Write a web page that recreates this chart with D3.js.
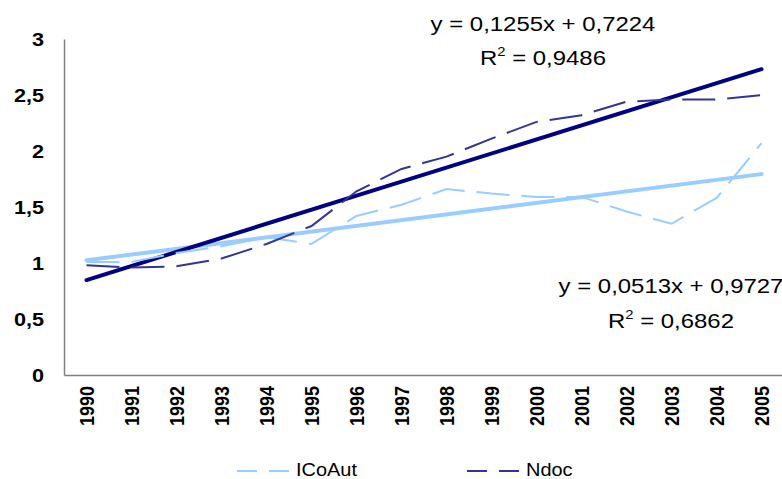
<!DOCTYPE html>
<html>
<head>
<meta charset="utf-8">
<script src="https://cdn.jsdelivr.net/npm/d3@7"></script>
<style>
  html, body { margin: 0; padding: 0; background: #fff; }
  svg { display: block; font-family: "Liberation Sans", Arial, sans-serif; }
</style>
</head>
<body>
<svg id="chart" width="782" height="479"></svg>
<script>
// Years on the category axis
const years = ["1990","1991","1992","1993","1994","1995","1996","1997",
               "1998","1999","2000","2001","2002","2003","2004","2005"];
// Index series (1990 ≈ 1)
const icoAut = [1.01,1.01,1.09,1.15,1.23,1.17,1.42,1.52,1.66,1.62,1.59,1.59,1.46,1.35,1.58,2.07];
const nDoc   = [0.98,0.96,0.97,1.04,1.17,1.33,1.64,1.84,1.95,2.11,2.26,2.32,2.44,2.46,2.46,2.50];
// Linear trend coefficients (x = 1 .. 16)
const trendNdoc   = { slope: 0.1255, intercept: 0.7224, r2: 0.9486 };
const trendICoAut = { slope: 0.0513, intercept: 0.9727, r2: 0.6862 };
const yTicks = [0, 0.5, 1, 1.5, 2, 2.5, 3];

const svg = d3.select("#chart");
const plotLeft = 64, plotTop = 39, plotBottom = 375, step = 45;
const plotRight = plotLeft + step * years.length;
const sx = 1.14; // wide text proportions

const x = d3.scaleBand().domain(years).range([plotLeft, plotRight]);
const y = d3.scaleLinear().domain([0, 3]).range([plotBottom, plotTop]);
const fmt = v => String(v).replace(".", ",");
const cx = d => x(d) + x.bandwidth() / 2;

// Axes
const yAxis = svg.append("g").attr("transform", `translate(${plotLeft},0)`)
  .call(d3.axisLeft(y).tickValues(yTicks).tickSize(0).tickPadding(0).tickFormat(fmt));
yAxis.select(".domain").attr("stroke", "#808080").attr("stroke-width", 1.5);
yAxis.selectAll("text").attr("font-size", 19).attr("font-weight", "bold")
  .attr("fill", "#000").attr("font-family", "Liberation Sans, Arial, sans-serif")
  .attr("x", 0).attr("dy", "0.36em")
  .attr("transform", `translate(-20,0) scale(${sx},1)`);

const xAxis = svg.append("g").attr("transform", `translate(0,${plotBottom})`)
  .call(d3.axisBottom(x).tickSize(0).tickPadding(0));
xAxis.select(".domain").attr("stroke", "#808080").attr("stroke-width", 1.5);
xAxis.selectAll("text")
  .attr("font-size", 18).attr("font-weight", "bold").attr("fill", "#000")
  .attr("font-family", "Liberation Sans, Arial, sans-serif")
  .attr("text-anchor", "end").attr("dy", null).attr("y", 0)
  .attr("transform", `translate(7,11) scale(${sx},1) rotate(-90)`);

// Data lines (long dash)
const line = d3.line().x((d, i) => cx(years[i])).y(d => y(d));
const series = [
  { name: "ICoAut", values: icoAut, color: "#99CCFF" },
  { name: "Ndoc",   values: nDoc,   color: "#333399" }
];

// Trend lines
const trends = [
  { t: trendICoAut, color: "#99CCFF" },
  { t: trendNdoc,   color: "#000080" }
];
trends.forEach(({ t, color }) => {
  const pts = [1, years.length].map(k => [cx(years[k - 1]), y(t.slope * k + t.intercept)]);
  svg.append("line")
    .attr("x1", pts[0][0]).attr("y1", pts[0][1])
    .attr("x2", pts[1][0]).attr("y2", pts[1][1])
    .attr("stroke", color).attr("stroke-width", 4).attr("stroke-linecap", "round");
});

series.forEach(s => {
  svg.append("path").datum(s.values)
    .attr("d", line).attr("fill", "none")
    .attr("stroke", s.color).attr("stroke-width", 2)
    .attr("stroke-dasharray", "33,12");
});

// Stretched text placed at (x0, y0)
function wideText(parent, x0, y0, size, anchor) {
  return parent.append("text")
    .attr("transform", `translate(${x0},${y0}) scale(${sx},1)`)
    .attr("font-size", size).attr("text-anchor", anchor).attr("fill", "#000");
}

// Equation labels
function eqLabel(t, x0, y1, y2) {
  wideText(svg, x0, y1, 21, "middle").text(`y = ${fmt(t.slope)}x + ${fmt(t.intercept)}`);
  const r = wideText(svg, x0, y2, 21, "middle");
  r.append("tspan").text("R");
  r.append("tspan").attr("font-size", 13).attr("dy", -9).text("2");
  r.append("tspan").attr("dy", 9).text(` = ${fmt(t.r2)}`);
}
eqLabel(trendNdoc, 543, 31, 65);
eqLabel(trendICoAut, 671, 293, 328);

// Legend
const legend = svg.append("g");
[{ s: series[0], x0: 237 }, { s: series[1], x0: 467 }].forEach(({ s, x0 }) => {
  legend.append("line").attr("x1", x0).attr("x2", x0 + 54).attr("y1", 471).attr("y2", 471)
    .attr("stroke", s.color).attr("stroke-width", 2).attr("stroke-dasharray", "20,12");
  wideText(legend, x0 + 59, 476, 17.5, "start").text(s.name);
});
</script>
</body>
</html>
